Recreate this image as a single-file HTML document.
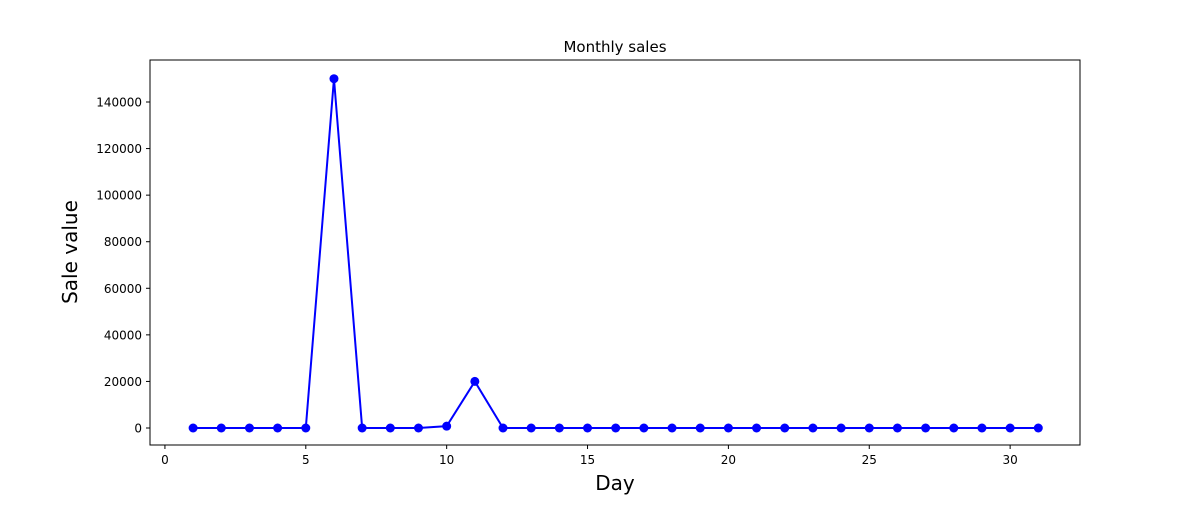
<!DOCTYPE html>
<html><head><meta charset="utf-8"><style>
body{margin:0;background:#fff;font-family:"Liberation Sans","DejaVu Sans",sans-serif}
svg text{font-family:"DejaVu Sans","Liberation Sans",sans-serif}
</style></head><body>
<svg id="chart" width="1200" height="500"></svg>
<script>
const days = [];
for (let d = 1; d <= 31; d++) days.push(d);
const sales = [0,0,0,0,0,150000,0,0,0,800,20000,0,0,0,0,0,0,0,0,0,0,0,0,0,0,0,0,0,0,0,0];
const xTicks = [0,5,10,15,20,25,30];
const yTicks = [0,20000,40000,60000,80000,100000,120000,140000];

const L=150,R=1080,T=60,B=445;
const xMin=-0.53,xMax=32.48,yMin=-7300,yMax=158036;
const sx=v=>L+(v-xMin)/(xMax-xMin)*(R-L);
const sy=v=>B-(v-yMin)/(yMax-yMin)*(B-T);
const svg=document.getElementById('chart');
const NS='http://www.w3.org/2000/svg';
function mk(tag,attrs,txt){const e=document.createElementNS(NS,tag);for(const k in attrs)e.setAttribute(k,attrs[k]);if(txt!==undefined)e.textContent=txt;svg.appendChild(e);return e;}

let t=mk('text',{x:615,y:52,'text-anchor':'middle','font-size':15,fill:'#000'},'Monthly sales');


t=mk('text',{x:615,y:490,'text-anchor':'middle','font-size':20,fill:'#000'},'Day');


t=mk('text',{x:77,y:252,'text-anchor':'middle','font-size':20,fill:'#000',transform:'rotate(-90 77 252)'},'Sale value');



xTicks.forEach(v=>{const x=sx(v);
 const l=mk('line',{x1:x,x2:x,y1:B,y2:B+4,stroke:'#000','stroke-width':1});
 
 
 const tx=mk('text',{x:x,y:B+19,'text-anchor':'middle','font-size':12,fill:'#000'},String(v));
 
 
});
yTicks.forEach(v=>{const y=sy(v);
 const l=mk('line',{x1:L-4,x2:L,y1:y,y2:y,stroke:'#000','stroke-width':1});
 
 
 const tx=mk('text',{x:L-8,y:y+4.5,'text-anchor':'end','font-size':12,fill:'#000'},String(v));
 
 
});

const pts=days.map((d,i)=>sx(d)+','+sy(sales[i])).join(' ');
const pl=mk('polyline',{points:pts,fill:'none',stroke:'#0000ff','stroke-width':2});


days.forEach((d,i)=>{
 const c=mk('circle',{cx:sx(d),cy:sy(sales[i]),r:4.5,fill:'#0000ff'});
 
 
});
const fr=mk('rect',{x:L,y:T,width:R-L,height:B-T,fill:'none',stroke:'#000','stroke-width':1});


</script>
</body></html>
